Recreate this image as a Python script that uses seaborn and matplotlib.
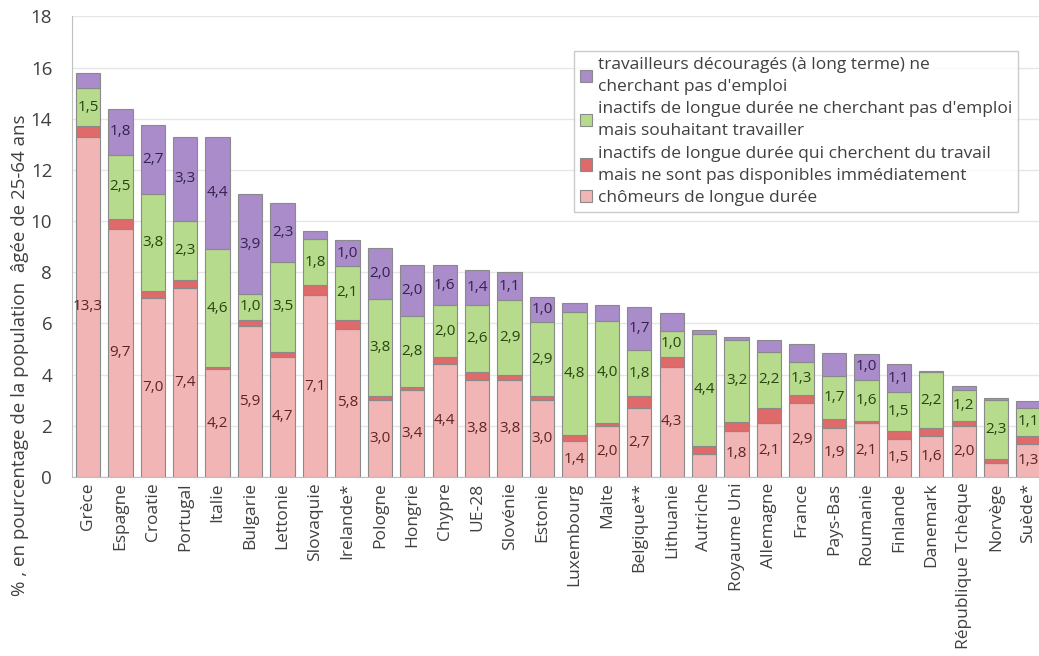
import numpy as np
import pandas as pd
import seaborn as sns
import matplotlib.pyplot as plt

# Data
countries = ["Grèce", "Espagne", "Croatie", "Portugal", "Italie", "Bulgarie", "Lettonie",
             "Slovaquie", "Irelande*", "Pologne", "Hongrie", "Chypre", "UE-28", "Slovénie",
             "Estonie", "Luxembourg", "Malte", "Belgique**", "Lithuanie", "Autriche",
             "Royaume Uni", "Allemagne", "France", "Pays-Bas", "Roumanie", "Finlande",
             "Danemark", "République Tchèque", "Norvège", "Suède*"]
chomeurs = [13.3, 9.7, 7.0, 7.4, 4.2, 5.9, 4.7, 7.1, 5.8, 3.0, 3.4, 4.4, 3.8, 3.8, 3.0,
            1.4, 2.0, 2.7, 4.3, 0.9, 1.8, 2.1, 2.9, 1.9, 2.1, 1.5, 1.6, 2.0, 0.55, 1.3]
inactifs_cherchent = [0.4, 0.4, 0.25, 0.3, 0.1, 0.25, 0.2, 0.4, 0.35, 0.15, 0.1, 0.3, 0.3, 0.2, 0.15,
                      0.25, 0.1, 0.45, 0.4, 0.3, 0.35, 0.6, 0.3, 0.35, 0.1, 0.3, 0.3, 0.2, 0.15, 0.3]
inactifs_souhaitant = [1.5, 2.5, 3.8, 2.3, 4.6, 1.0, 3.5, 1.8, 2.1, 3.8, 2.8, 2.0, 2.6, 2.9, 2.9,
                       4.8, 4.0, 1.8, 1.0, 4.4, 3.2, 2.2, 1.3, 1.7, 1.6, 1.5, 2.2, 1.2, 2.3, 1.1]
decourages = [0.6, 1.8, 2.7, 3.3, 4.4, 3.9, 2.3, 0.3, 1.0, 2.0, 2.0, 1.6, 1.4, 1.1, 1.0,
              0.35, 0.6, 1.7, 0.7, 0.15, 0.1, 0.45, 0.7, 0.9, 1.0, 1.1, 0.05, 0.15, 0.1, 0.25]

labels = ["chômeurs de longue durée",
          "inactifs de longue durée qui cherchent du travail\nmais ne sont pas disponibles immédiatement",
          "inactifs de longue durée ne cherchant pas d'emploi\nmais souhaitant travailler",
          "travailleurs découragés (à long terme) ne\ncherchant pas d'emploi"]
colors = ["#F2B5B5", "#E06A6A", "#B6DB8C", "#A98CC9"]
text_colors = ["#5E2424", None, "#2A4410", "#33244D"]

plt.rcParams['font.family'] = ['Open Sans', 'DejaVu Sans']
fig = plt.figure(figsize=(10.39, 6.56), dpi=100)
ax = fig.add_axes([0.069, 0.273, 0.935, 0.702])

df = pd.DataFrame({"pays": countries})
series = [chomeurs, inactifs_cherchent, inactifs_souhaitant, decourages]
bottom = np.zeros(len(countries))
for vals, lab, col, tcol in zip(series, labels, colors, text_colors):
    df["v"] = vals
    sns.barplot(data=df, x="pays", y="v", bottom=bottom, color=col, width=0.75,
                edgecolor="#8A8A8A", linewidth=0.8, ax=ax, label=lab, saturation=1)
    if tcol:
        for i, v in enumerate(vals):
            if v >= 1.0:
                ax.text(i, bottom[i] + v / 2, f"{v:.1f}".replace(".", ","), ha="center",
                        va="center", fontsize=11, color=tcol)
    bottom = bottom + np.array(vals)

ax.set_ylim(0, 18)
ax.set_xlim(-0.5, 29.45)
ax.set_yticks(range(0, 19, 2))
ax.yaxis.grid(True, color="#E6E6E6", linewidth=1)
ax.set_axisbelow(True)
ax.set_xlabel("")
ax.set_ylabel("")
ax.tick_params(axis="y", labelsize=13.5, colors="#404040", length=0, pad=14)
ax.tick_params(axis="x", labelsize=12.5, colors="#404040", length=0, rotation=90, pad=4)
for s in ["top", "right"]:
    ax.spines[s].set_visible(False)
ax.spines["left"].set_color("#BFBFBF")
ax.spines["bottom"].set_color("#BFBFBF")

fig.text(0.019, 0.459, "% , en pourcentage de la population  âgée de 25-64 ans",
         rotation=90, ha="center", va="center", fontsize=13.5, color="#404040")

h, l = ax.get_legend_handles_labels()
leg = ax.legend(h[::-1], l[::-1], loc="upper right", bbox_to_anchor=(0.983, 0.943),
                fontsize=12.5, frameon=True, fancybox=False, edgecolor="#BFBFBF",
                handlelength=0.7, handleheight=0.7, handletextpad=0.3,
                labelspacing=0.35, borderpad=0.35)
for t in leg.get_texts():
    t.set_color("#404040")
    t.set_linespacing(1.5)

fig.savefig("out.png", dpi=100)
